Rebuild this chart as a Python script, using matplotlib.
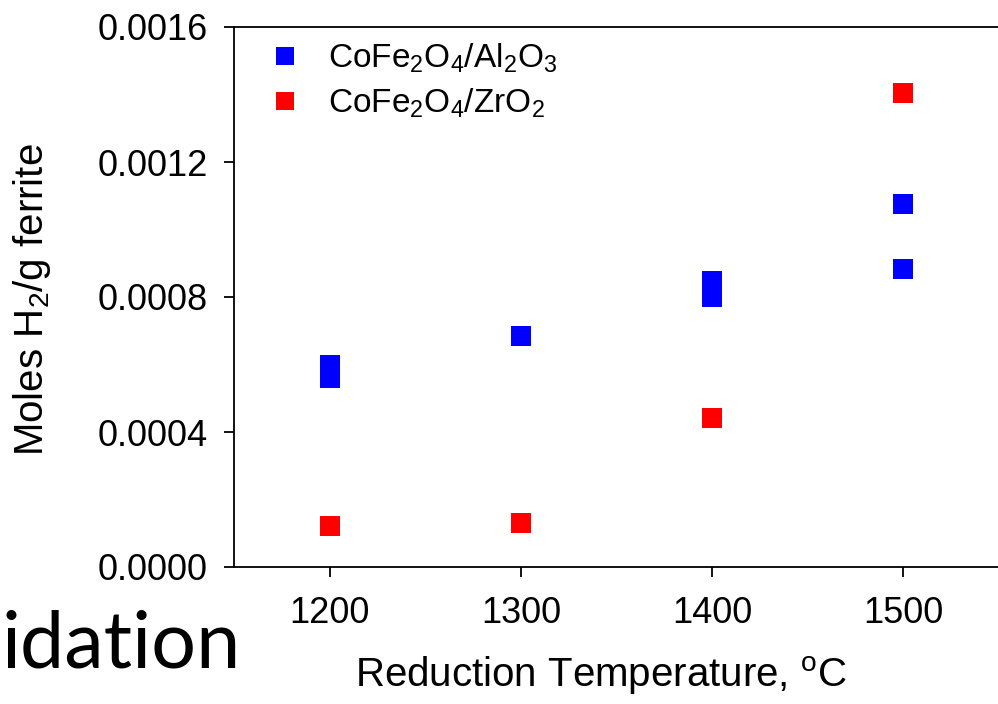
import matplotlib
matplotlib.use('Agg')
import matplotlib.pyplot as plt

# data
temps_al = [1200, 1200, 1300, 1400, 1400, 1500, 1500]
h2_al = [0.000600, 0.000561, 0.000683, 0.000846, 0.000799, 0.001077, 0.000884]
temps_zr = [1200, 1300, 1400, 1500]
h2_zr = [0.000122, 0.000129, 0.000441, 0.001404]

x_ticks = [1200, 1300, 1400, 1500]
y_ticks = [0.0, 0.0004, 0.0008, 0.0012, 0.0016]
y_tick_labels = ['0.0000', '0.0004', '0.0008', '0.0012', '0.0016']

plt.rcParams['font.family'] = ['Liberation Sans', 'DejaVu Sans']
plt.rcParams['mathtext.fontset'] = 'custom'
plt.rcParams['mathtext.rm'] = 'Liberation Sans'
plt.rcParams['mathtext.it'] = 'Liberation Sans:italic'
plt.rcParams['mathtext.bf'] = 'Liberation Sans:bold'

W, H = 998, 704
fig = plt.figure(figsize=(W / 100, H / 100), dpi=100)
ax = fig.add_axes([234 / W, (H - 567) / H, 765 / W, 540 / H])

ax.plot(temps_al, h2_al, 's', color='#0000ff', ms=13.7, mew=0,
        label=r'$\mathregular{CoFe_2O_4/Al_2O_3}$')
ax.plot(temps_zr, h2_zr, 's', color='#ff0000', ms=13.7, mew=0,
        label=r'$\mathregular{CoFe_2O_4/ZrO_2}$')

ax.set_xlim(1150, 1550)
ax.set_ylim(0, 0.0016)
ax.set_xticks(x_ticks)
ax.set_yticks(y_ticks)
ax.set_yticklabels(y_tick_labels)
ax.tick_params(axis='both', direction='out', length=7, width=1.3, labelsize=26)
ax.tick_params(axis='x', pad=14)
ax.tick_params(axis='y', pad=12)
for s in ax.spines.values():
    s.set_linewidth(1.3)
ax.spines['right'].set_visible(False)

fig.text(601 / W, 1 - 676 / H, r'Reduction Temperature, $\mathregular{^o}$C',
         ha='center', va='center', fontsize=29)
fig.text(32 / W, 1 - 300 / H, r'Moles H$\mathregular{_2}$/g ferrite',
         ha='center', va='center', rotation=90, fontsize=29)

ax.legend(loc='upper left', bbox_to_anchor=(268 / W, 1 - 42 / H),
          bbox_transform=fig.transFigure, frameon=False, fontsize=24,
          markerscale=0.9, handlelength=1.0, handletextpad=0.8,
          labelspacing=0.35, borderpad=0, borderaxespad=0)

# leftover slide text at the bottom left
fig.text(2 / W, 1 - 667 / H, 'idation', family=['Lato', 'DejaVu Sans'],
         fontsize=57, ha='left', va='baseline')

fig.savefig('out.png', dpi=100)
